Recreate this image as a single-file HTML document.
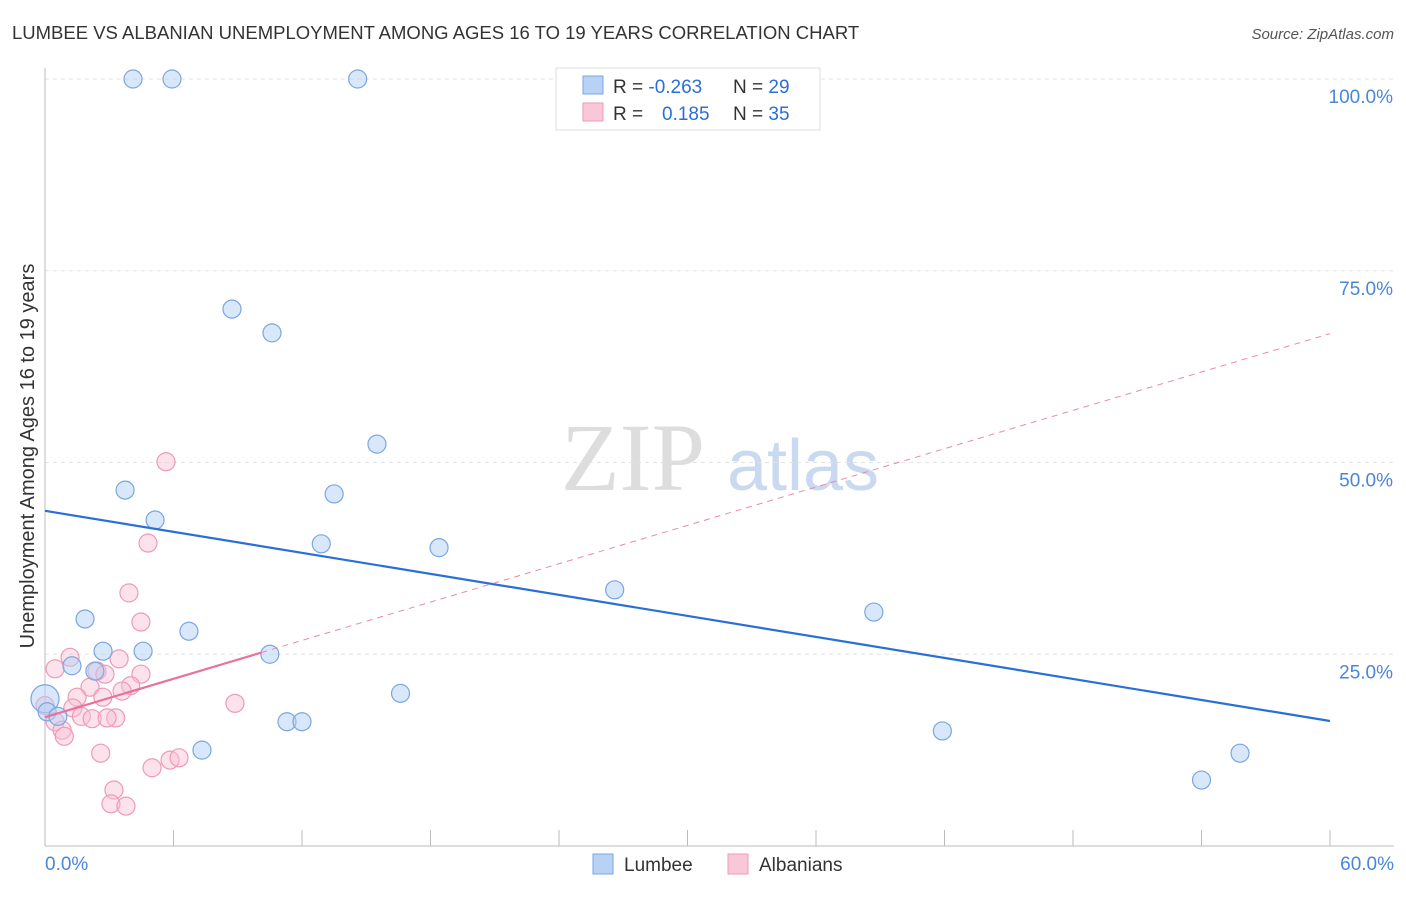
<!DOCTYPE html>
<html><head><meta charset="utf-8"><style>
body{margin:0;background:#fff;font-family:"Liberation Sans",sans-serif}
svg text{font-family:"Liberation Sans",sans-serif}
</style></head><body>
<svg width="1406" height="892" id="c">
<text x="12" y="39" font-size="18.5" fill="#333">LUMBEE VS ALBANIAN UNEMPLOYMENT AMONG AGES 16 TO 19 YEARS CORRELATION CHART</text>
<text x="1394" y="39" font-size="15" fill="#555" font-style="italic" text-anchor="end">Source: ZipAtlas.com</text>
<text transform="translate(34,456) rotate(-90)" font-size="20" fill="#333" text-anchor="middle">Unemployment Among Ages 16 to 19 years</text>
<g><text x="633" y="490" font-size="96" font-family="Liberation Serif" fill="#ddd" text-anchor="middle" style="font-family:'Liberation Serif',serif">ZIP</text><text x="803" y="490" font-size="72" fill="#c9d9f0" text-anchor="middle">atlas</text></g>
<g id="grid"></g><g id="axes"></g><g id="marks"></g>
<g>
<rect x="556" y="68" width="264" height="62" fill="#fff" stroke="#ddd"/>
<rect x="583" y="76" width="20" height="18" fill="#b8d2f5" stroke="#7aa6e0"/>
<rect x="583" y="103" width="20" height="18" fill="#f9c8d8" stroke="#ee9ab6"/>
<text x="613" y="93" font-size="19" fill="#333">R = <tspan fill="#2a6fd6">-0.263</tspan><tspan x="733">N = </tspan><tspan fill="#2a6fd6">29</tspan></text>
<text x="613" y="120" font-size="19" fill="#333">R = <tspan x="662" fill="#2a6fd6">0.185</tspan><tspan x="733">N = </tspan><tspan fill="#2a6fd6">35</tspan></text>
</g>
<g>
<rect x="593" y="854" width="20" height="20" fill="#b8d2f5" stroke="#7aa6e0"/><text x="624" y="871" font-size="19" fill="#333">Lumbee</text>
<rect x="728" y="854" width="20" height="20" fill="#f9c8d8" stroke="#ee9ab6"/><text x="759" y="871" font-size="19" fill="#333">Albanians</text>
</g>
</svg>
<script>
const lumbeeX=[4.11,5.93,14.6,8.73,10.6,15.5,3.74,13.5,5.14,12.9,18.4,26.6,38.7,1.87,6.72,2.71,4.58,10.5,1.26,2.33,0,16.6,0.1,0.6,11.3,12.0,7.33,41.9,55.8,54.0];
const lumbeeY=[100,100,100,70.0,66.9,52.4,46.4,45.9,42.5,39.4,38.9,33.4,30.5,29.6,28.0,25.4,25.4,25.0,23.5,22.8,19.2,19.9,17.5,16.9,16.2,16.2,12.5,15.0,12.1,8.6];
const albX=[5.65,4.81,3.92,4.48,1.17,0.47,2.43,3.46,2.8,4.48,2.1,4.0,3.6,2.7,1.5,8.87,0,1.3,1.7,2.2,3.3,0.47,0.8,0.9,2.6,5.84,6.26,5.0,3.22,3.08,3.78,2.9];
const albY=[50.1,39.5,33.0,29.2,24.6,23.1,22.8,24.4,22.4,22.4,20.7,20.9,20.2,19.4,19.4,18.6,18.3,18.0,16.9,16.6,16.7,16.2,15.1,14.3,12.1,11.2,11.5,10.2,7.3,5.5,5.2,16.7];
const lumbeeTrend=[43.7,16.3];
const albTrend=[16.8,66.8];
const yTicks=[25,50,75,100];
const xTickLabels=["0.0%","60.0%"];
const sx=v=>45+v/60*1285, sy=v=>846-v/100*767;
const NS="http://www.w3.org/2000/svg";
function mk(p,t,a){const e=document.createElementNS(NS,t);for(const k in a)e.setAttribute(k,a[k]);document.getElementById(p).appendChild(e);return e;}
yTicks.forEach(t=>{
 const l=mk('grid','line',{x1:45,x2:1394,y1:sy(t),y2:sy(t),stroke:'#e3e3e3','stroke-dasharray':'4,4'});
 
 
 const tx=mk('grid','text',{x:1393,y:sy(t)+24,'font-size':19,fill:'#4a86d8','text-anchor':'end'});tx.textContent=t.toFixed(1)+'%';
 
 
});
const ax=mk('axes','line',{x1:45,x2:45,y1:68,y2:846,stroke:'#bbb'});


const bx=mk('axes','line',{x1:45,x2:1394,y1:846,y2:846,stroke:'#bbb'});


for(let i=0;i<=10;i++){const t=mk('axes','line',{x1:sx(i*6),x2:sx(i*6),y1:830,y2:846,stroke:'#bbb'});
 
 }
[[0,'start',45],[1,'end',1394]].forEach(([i,a,x])=>{const t=mk('axes','text',{x:x,y:870,'font-size':19,fill:'#4a86d8','text-anchor':a});t.textContent=xTickLabels[i];
 
 });
albX.forEach((x,i)=>{const c=mk('marks','circle',{cx:sx(x),cy:sy(albY[i]),r:9,fill:'rgba(248,190,210,0.45)',stroke:'#ee9ab6','stroke-width':1.2});
 
 });
lumbeeX.forEach((x,i)=>{const c=mk('marks','circle',{cx:sx(x),cy:sy(lumbeeY[i]),r:i==20?14:9,fill:'rgba(180,208,245,0.5)',stroke:'#7aa6e0','stroke-width':1.2});
 
 });
const t1=mk('marks','line',{x1:sx(0),y1:sy(lumbeeTrend[0]),x2:sx(60),y2:sy(lumbeeTrend[1]),stroke:'#2a6fd6','stroke-width':2.2});


const ay=x=>albTrend[0]+(albTrend[1]-albTrend[0])*x/60;
const t2=mk('marks','line',{x1:sx(10.1),y1:sy(ay(10.1)),x2:sx(60),y2:sy(ay(60)),stroke:'#e88aa8','stroke-width':1,'stroke-dasharray':'6,5'});


const t3=mk('marks','line',{x1:sx(0),y1:sy(ay(0)),x2:sx(10.1),y2:sy(ay(10.1)),stroke:'#e8739a','stroke-width':2.2});


</script>
</body></html>
